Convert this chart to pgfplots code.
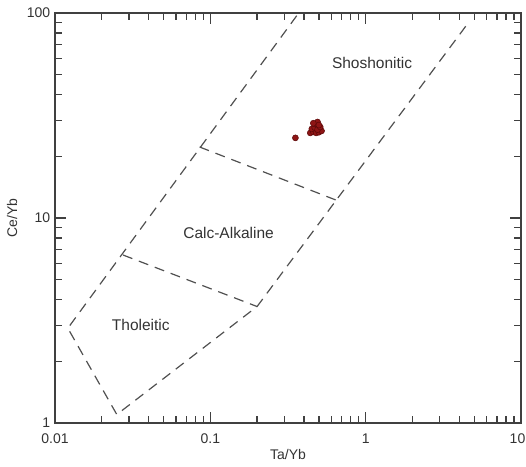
\documentclass[border=0pt]{standalone}
\usepackage{pgfplots}
\pgfplotsset{compat=1.18}
\usepackage{fontspec}
\setmainfont{Liberation Sans}
\definecolor{ptfill}{HTML}{8E1515}
\definecolor{ptedge}{HTML}{5A0808}
\definecolor{dashgray}{HTML}{505050}
\begin{document}
\fontsize{14}{16}\selectfont
\begin{tikzpicture}
\begin{axis}[name=ax, scale only axis, width=466pt, height=410pt,
 xmode=log, ymode=log, xmin=0.01, xmax=10, ymin=1, ymax=100,
 xtick={0.01,0.1,1,10}, xticklabels={0.01,0.1,1,\hspace*{-7pt}10},
 ytick={1,10,100}, yticklabels={1,10,100},
 minor xtick={0.02,0.03,0.04,0.05,0.06,0.07,0.08,0.09,0.2,0.3,0.4,0.5,0.6,0.7,0.8,0.9,2,3,4,5,6,7,8,9},
 minor ytick={2,3,4,5,6,7,8,9,20,30,40,50,60,70,80,90},
 tick align=inside, major tick length=11pt, minor tick length=7pt,
 every tick/.style={line width=1.3pt, color=black!75},
 axis line style={line width=1.2pt, black!75},
 xticklabel style={yshift=-6pt, text=black!80},
 yticklabel style={text=black!80},
 xlabel={Ta/Yb}, ylabel={Ce/Yb},
 xlabel style={text=black!80, yshift=4pt},
 ylabel style={text=black!80},
 /pgf/number format/assume math mode=true,
 clip=false,
]
\addplot[color=dashgray, line width=1.2pt, dash pattern=on 10pt off 7pt, no marks] coordinates {
 (0.36,97) (0.0121,2.9) (0.025,1.1) (0.2,3.7) (4.6,90)};
\addplot[color=dashgray, line width=1.2pt, dash pattern=on 10pt off 7pt, no marks] coordinates {
 (0.0274,6.6) (0.2,3.7)};
\addplot[color=dashgray, line width=1.2pt, dash pattern=on 10pt off 7pt, no marks] coordinates {
 (0.0853,22.2) (0.65,12.2)};
\addplot[only marks, mark=*, mark size=3pt, mark options={fill=ptfill, draw=ptedge, line width=0.5pt}] coordinates {
 (0.353,24.6)
 (0.44,26.0) (0.46,26.3) (0.48,26.0) (0.50,26.2) (0.52,26.6)
 (0.45,27.2) (0.47,27.6) (0.49,27.0) (0.51,27.8)
 (0.47,28.8) (0.49,29.4) (0.46,29.0) (0.50,28.4)};
\node[text=black!80, font=\fontsize{15.5}{17}\selectfont] at (axis cs:1.10,57) {Shoshonitic};
\node[text=black!80, font=\fontsize{15.5}{17}\selectfont] at (axis cs:0.131,8.45) {Calc-Alkaline};
\node[text=black!80, font=\fontsize{15.5}{17}\selectfont] at (axis cs:0.0357,3.0) {Tholeitic};
\end{axis}
\pgfresetboundingbox
\path ([xshift=-55pt,yshift=-43pt]ax.south west) rectangle ([xshift=5pt,yshift=13pt]ax.north east);
\end{tikzpicture}
\end{document}
